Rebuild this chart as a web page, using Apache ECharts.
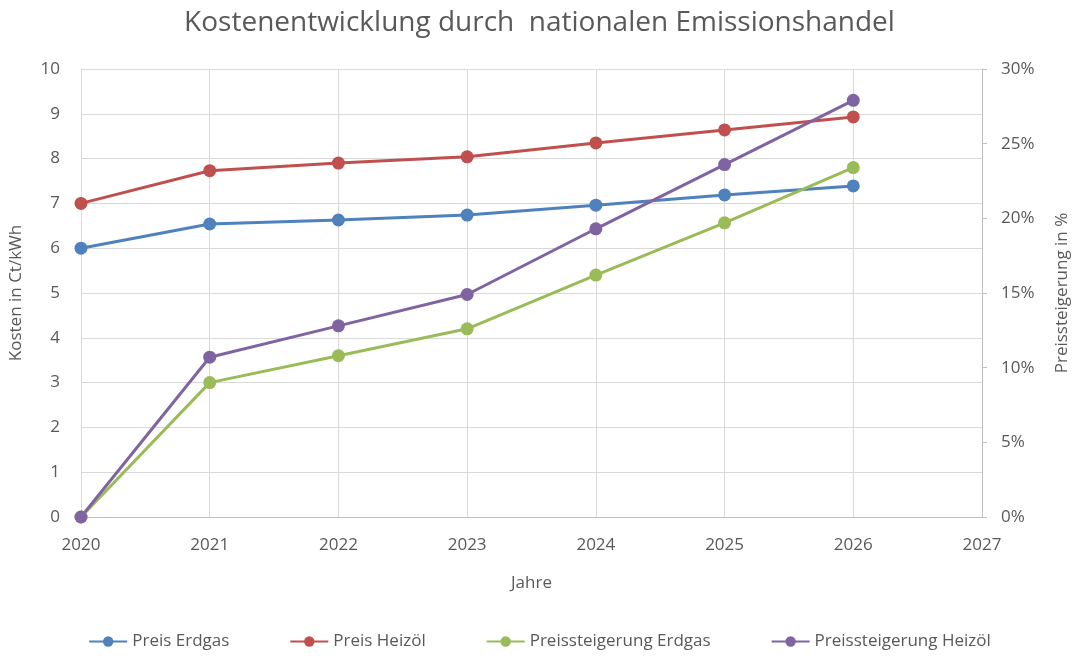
<!DOCTYPE html>
<html>
<head>
<meta charset="utf-8">
<script src="https://cdn.jsdelivr.net/npm/echarts@6/dist/echarts.min.js"></script>
<style>
  html, body { margin: 0; padding: 0; background: #fff; }
  #main { width: 1079px; height: 659px; }
</style>
</head>
<body>
<div id="main"></div>
<script>
// Jahre und Werte
var years = [2020, 2021, 2022, 2023, 2024, 2025, 2026];
var preisErdgas = [6.0, 6.54, 6.63, 6.74, 6.96, 7.19, 7.39];
var preisHeizoel = [7.0, 7.73, 7.9, 8.04, 8.35, 8.64, 8.93];
// Preissteigerung in %
var steigErdgas = [0, 9.0, 10.8, 12.6, 16.2, 19.7, 23.4];
var steigHeizoel = [0, 10.7, 12.8, 14.9, 19.3, 23.6, 27.9];
var leftTicks = [0, 10, 1];   // min, max, interval
var rightTicks = [0, 30, 5];

function pairs (vals) {
  return years.map(function (y, i) { return [y, vals[i]]; });
}

var txt = '#595959';
var font = 'Open Sans';
var myChart = echarts.init(document.getElementById('main'));

var option = {
  backgroundColor: '#fff',
  animation: false,
  title: {
    text: 'Kostenentwicklung durch  nationalen Emissionshandel',
    left: 'center',
    top: 4,
    textStyle: { fontFamily: font, fontWeight: 'normal', fontSize: 28, color: txt }
  },
  color: ['#4F81BD', '#C0504D', '#9BBB59', '#8064A2'],
  legend: {
    bottom: 4,
    left: 'center',
    itemGap: 60,
    itemWidth: 38,
    itemHeight: 13,
    textStyle: { fontFamily: font, fontSize: 17, color: txt },
    data: ['Preis Erdgas', 'Preis Heizöl', 'Preissteigerung Erdgas', 'Preissteigerung Heizöl']
  },
  grid: {
    left: 81,
    right: 95,
    top: 69,
    bottom: 142,
    containLabel: false
  },
  xAxis: {
    type: 'value',
    min: 2020,
    max: 2027,
    interval: 1,
    name: 'Jahre',
    nameLocation: 'middle',
    nameGap: 58,
    nameTextStyle: { fontFamily: font, fontSize: 17, color: txt },
    axisLine: { show: true, lineStyle: { color: '#bfbfbf' } },
    axisTick: { show: false },
    axisLabel: {
      fontFamily: font, fontSize: 17, color: txt, margin: 20,
      formatter: function (v) { return String(v); }
    },
    splitLine: { show: true, lineStyle: { color: '#d9d9d9' } }
  },
  yAxis: [
    {
      type: 'value',
      min: leftTicks[0],
      max: leftTicks[1],
      interval: leftTicks[2],
      name: 'Kosten in Ct/kWh',
      nameLocation: 'middle',
      nameGap: 56,
      nameTextStyle: { fontFamily: font, fontSize: 17, color: txt },
      axisLine: { show: false },
      axisTick: { show: false },
      axisLabel: { fontFamily: font, fontSize: 17, color: txt, margin: 21 },
      splitLine: { show: true, lineStyle: { color: '#d9d9d9' } }
    },
    {
      type: 'value',
      min: rightTicks[0],
      max: rightTicks[1],
      interval: rightTicks[2],
      name: 'Preissteigerung in %',
      nameLocation: 'middle',
      nameGap: 72,
      nameRotate: 90,
      nameTextStyle: { fontFamily: font, fontSize: 17, color: txt },
      axisLine: { show: true, lineStyle: { color: '#bfbfbf' } },
      axisTick: { show: true, length: 5, lineStyle: { color: '#bfbfbf' } },
      axisLabel: { fontFamily: font, fontSize: 17, color: txt, margin: 19, formatter: '{value}%' },
      splitLine: { show: false }
    }
  ],
  series: [
    {
      name: 'Preis Erdgas', type: 'line', yAxisIndex: 0,
      symbol: 'circle', symbolSize: 13, lineStyle: { width: 3 },
      data: pairs(preisErdgas)
    },
    {
      name: 'Preis Heizöl', type: 'line', yAxisIndex: 0,
      symbol: 'circle', symbolSize: 13, lineStyle: { width: 3 },
      data: pairs(preisHeizoel)
    },
    {
      name: 'Preissteigerung Erdgas', type: 'line', yAxisIndex: 1,
      symbol: 'circle', symbolSize: 13, lineStyle: { width: 3 },
      data: pairs(steigErdgas)
    },
    {
      name: 'Preissteigerung Heizöl', type: 'line', yAxisIndex: 1,
      symbol: 'circle', symbolSize: 13, lineStyle: { width: 3 },
      data: pairs(steigHeizoel)
    }
  ]
};
myChart.setOption(option);
</script>
</body>
</html>
